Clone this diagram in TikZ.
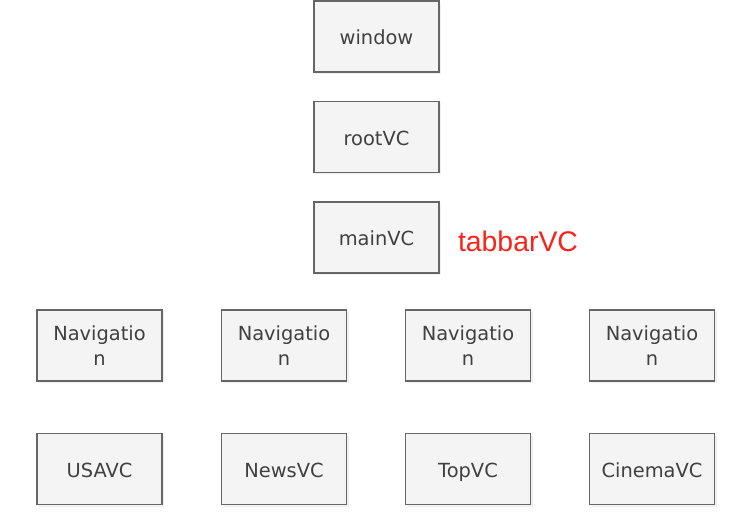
\documentclass[tikz,border=0pt]{standalone}
\usepackage{fontspec}
\setmainfont{DejaVu Sans}
\newfontfamily\tagfont{Liberation Sans}
\usetikzlibrary{positioning,shadows}
\definecolor{boxline}{RGB}{102,102,102}
\definecolor{boxfill}{RGB}{244,244,244}
\definecolor{boxtext}{RGB}{64,64,64}
\definecolor{tagred}{RGB}{250,35,25}
\tikzset{
  vc/.style={draw=boxline,line width=1.3bp,fill=boxfill,minimum width=125bp,minimum height=71bp,inner sep=0pt,align=center,text=boxtext,font=\fontsize{19.5}{25}\selectfont,drop shadow={opacity=0.12,shadow xshift=2bp,shadow yshift=-2bp}},
  vcone/.style={vc,text height=17bp,text depth=0bp},
  tag/.style={text=tagred,font=\tagfont\fontsize{28.5}{30}\selectfont,inner sep=0pt}
}

\begin{document}
\begin{tikzpicture}[x=1bp,y=-1bp]
  \useasboundingbox (0,0) rectangle (734,524);
  % top column
  \node[vcone] (window) at (376.5,36.5) {window};
  \node[vcone] (rootVC) at (376.5,137) {rootVC};
  \node[vcone] (mainVC) at (376.5,237.5) {mainVC};
  \node[tag] (tabbarVC) at (518,241) {tabbarVC};
  % navigation row
  \node[vc] (navUSA) at (99.5,345.5) {Navigatio\\n};
  \node[vc] (navNews) at (284,345.5) {Navigatio\\n};
  \node[vc] (navTop) at (468,345.5) {Navigatio\\n};
  \node[vc] (navCinema) at (652,345.5) {Navigatio\\n};
  % content row
  \node[vcone] (usaVC) at (99.5,469) {USAVC};
  \node[vcone] (newsVC) at (284,469) {NewsVC};
  \node[vcone] (topVC) at (468,469) {TopVC};
  \node[vcone] (cinemaVC) at (652,469) {CinemaVC};
\end{tikzpicture}
\end{document}
